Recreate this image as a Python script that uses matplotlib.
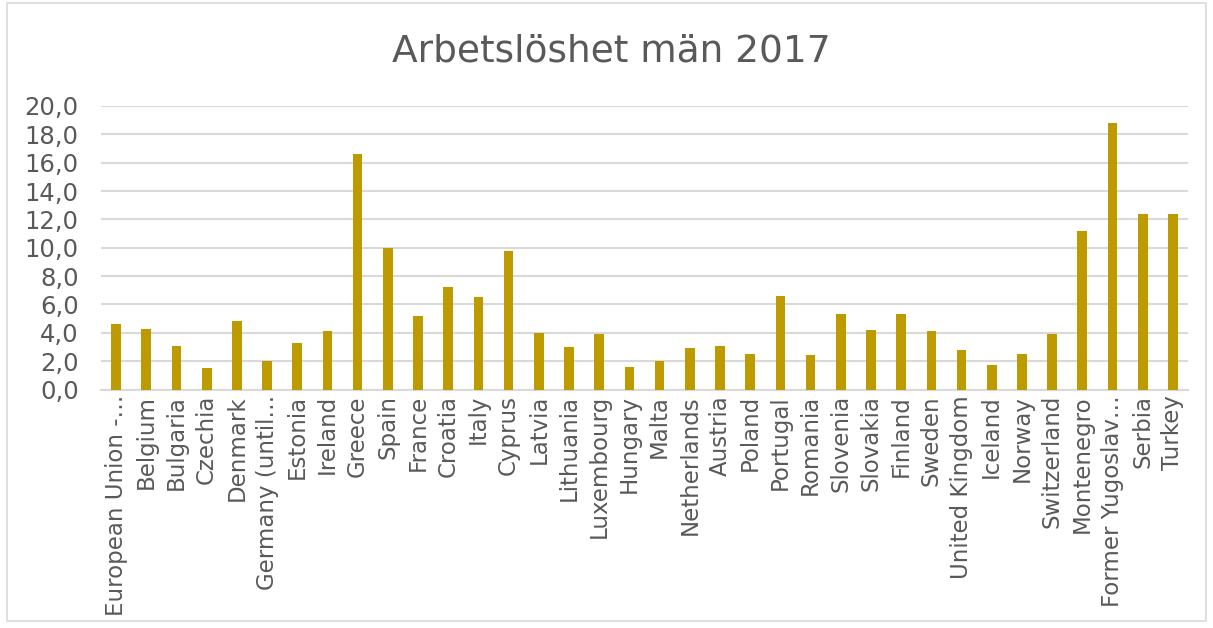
import matplotlib
matplotlib.use("Agg")
import matplotlib.pyplot as plt
from matplotlib.patches import Rectangle
from matplotlib.ticker import FuncFormatter

countries = ["European Union -…", "Belgium", "Bulgaria", "Czechia", "Denmark",
             "Germany (until…", "Estonia", "Ireland", "Greece", "Spain", "France",
             "Croatia", "Italy", "Cyprus", "Latvia", "Lithuania", "Luxembourg",
             "Hungary", "Malta", "Netherlands", "Austria", "Poland", "Portugal",
             "Romania", "Slovenia", "Slovakia", "Finland", "Sweden",
             "United Kingdom", "Iceland", "Norway", "Switzerland", "Montenegro",
             "Former Yugoslav…", "Serbia", "Turkey"]
values = [4.6, 4.3, 3.1, 1.5, 4.8, 2.0, 3.3, 4.1, 16.6, 10.0, 5.2,
          7.2, 6.5, 9.8, 4.0, 3.0, 3.9, 1.6, 2.0, 2.9, 3.1, 2.5, 6.6,
          2.4, 5.3, 4.2, 5.3, 4.1, 2.8, 1.7, 2.5, 3.9, 11.2, 18.8, 12.4, 12.4]
yticks = [0, 2, 4, 6, 8, 10, 12, 14, 16, 18, 20]
title = "Arbetslöshet män 2017"

W, H = 1213, 628
fig = plt.figure(figsize=(W / 100, H / 100), dpi=100)
ax = fig.add_axes([101 / W, 1 - 389.5 / H, (1188 - 101) / W, (389.5 - 106) / H])

text_color = "#595959"
ax.bar(range(len(countries)), values, width=0.32, color="#BC9A00", zorder=3)
ax.set_xlim(-0.5, len(countries) - 0.5)
ax.set_ylim(0, 20)
ax.set_yticks(yticks)
ax.yaxis.set_major_formatter(FuncFormatter(lambda v, p: f"{v:.1f}".replace(".", ",")))
ax.set_xticks(range(len(countries)))
ax.set_xticklabels(countries, rotation=90, va="top", ha="center")
ax.tick_params(axis="both", length=0, colors=text_color)
ax.tick_params(axis="y", pad=16, labelsize=17.5)
ax.tick_params(axis="x", pad=4, labelsize=16.5)
ax.grid(axis="y", color="#d9d9d9", linewidth=1.5, zorder=0)
for s in ["top", "right", "left"]:
    ax.spines[s].set_visible(False)
ax.spines["bottom"].set_color("#d9d9d9")
ax.spines["bottom"].set_linewidth(1.5)

fig.text(611 / W, 1 - 52 / H, title, ha="center", va="center", fontsize=27, color=text_color)

fig.patches.append(Rectangle((7 / W, 1 - 621 / H), (1206 - 7) / W, (621 - 3) / H,
                             transform=fig.transFigure, fill=False,
                             edgecolor="#d9d9d9", linewidth=1.2))

fig.savefig("out.png", dpi=100)
